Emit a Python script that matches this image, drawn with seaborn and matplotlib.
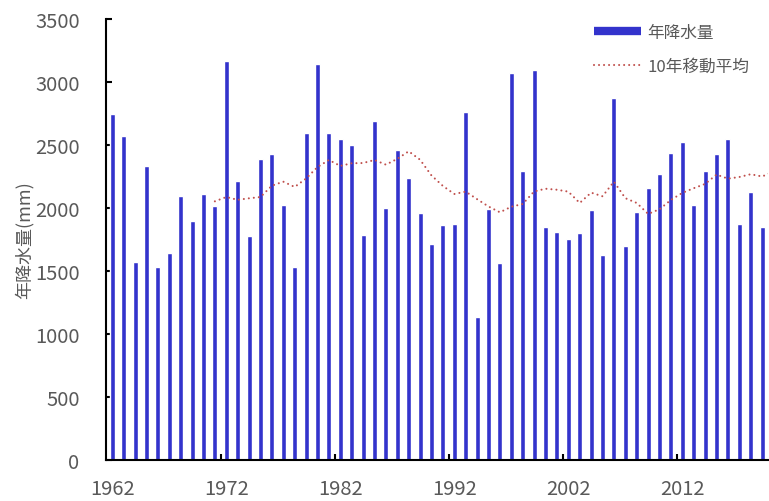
import matplotlib
matplotlib.use("Agg")
import matplotlib.pyplot as plt
import seaborn as sns
import pandas as pd
from matplotlib.lines import Line2D

# ---------- data ----------
years = list(range(1962, 2020))
precip = [2746, 2569, 1571, 2331, 1532, 1645, 2098, 1897, 2114, 2013,
          3167, 2214, 1775, 2386, 2429, 2026, 1532, 2595, 3143, 2595,
          2545, 2503, 1783, 2688, 1998, 2460, 2236, 1963, 1717, 1868,
          1876, 2762, 1132, 1992, 1566, 3072, 2294, 3093, 1847, 1810,
          1754, 1802, 1984, 1624, 2871, 1696, 1968, 2156, 2273, 2437,
          2524, 2021, 2294, 2429, 2545, 1870, 2127, 1847]
ma_years = list(range(1971, 2021))
ma_values = [2053, 2087, 2065, 2077, 2087, 2177, 2209, 2167, 2234, 2325,
             2381, 2334, 2355, 2357, 2381, 2344, 2390, 2450, 2383, 2258,
             2175, 2111, 2130, 2070, 2012, 1966, 2010, 2032, 2131, 2153,
             2145, 2130, 2040, 2122, 2093, 2209, 2078, 2040, 1953, 1990,
             2064, 2120, 2157, 2191, 2265, 2233, 2246, 2268, 2250, 2290]
label_years = [1962, 1972, 1982, 1992, 2002, 2012]

BAR_COLOR = "#3333CC"
MA_COLOR = "#C0504D"
TEXT_COLOR = "#595959"
# ---------------------------------------------------

sns.set_style("white")
plt.rcParams["font.family"] = ["Noto Sans CJK JP", "DejaVu Sans"]

df = pd.DataFrame({"year": [str(y) for y in years], "precip": precip})
ma_df = pd.DataFrame({"pos": [y - years[0] for y in ma_years], "ma": ma_values})

W, H, dpi = 769, 502, 100
fig = plt.figure(figsize=(W / dpi, H / dpi), dpi=dpi)
ax = fig.add_axes([106 / W, 41 / H, 662.4 / W, 441 / H])

sns.barplot(data=df, x="year", y="precip", color=BAR_COLOR, saturation=1,
            width=0.45, ax=ax)
sns.lineplot(data=ma_df, x="pos", y="ma", ax=ax, color=MA_COLOR,
             linewidth=1.5, linestyle=(0, (0.01, 2.4)), dash_capstyle="round")

ax.set_xlim(-0.55, len(years) - 1 + 0.55)
ax.set_ylim(0, 3500)
ax.set_yticks(range(0, 3501, 500))

# labels under categories, tick marks between categories
ax.set_xticks([y - years[0] for y in label_years])
ax.set_xticklabels([str(y) for y in label_years])
ax.set_xticks([y - years[0] - 0.5 for y in label_years[1:]], minor=True)
ax.tick_params(axis="x", which="major", length=0, pad=13, labelsize=14.5,
               labelcolor=TEXT_COLOR)
ax.tick_params(axis="x", which="minor", direction="in", length=4, width=1.5,
               color="black", bottom=True)
ax.tick_params(axis="y", direction="in", length=4, width=1.5, color="black",
               left=True, pad=19, labelsize=14.5, labelcolor=TEXT_COLOR)

for side in ["top", "right"]:
    ax.spines[side].set_visible(False)
for side in ["left", "bottom"]:
    ax.spines[side].set_color("black")
    ax.spines[side].set_linewidth(1.5)

ax.set_xlabel("")
ax.set_ylabel("年降水量(mm)", fontsize=13, color=TEXT_COLOR)
ax.yaxis.set_label_coords(-0.110, 0.5)

handles = [
    Line2D([], [], color=BAR_COLOR, linewidth=6, solid_capstyle="butt"),
    Line2D([], [], color=MA_COLOR, linewidth=1.5, linestyle=(0, (0.01, 2.4)),
           dash_capstyle="round"),
]
ax.legend(handles, ["年降水量", "10年移動平均"], loc="upper left",
          bbox_to_anchor=(594 / W, 477 / H), bbox_transform=fig.transFigure,
          frameon=False, fontsize=12, labelcolor=TEXT_COLOR, handlelength=2.8,
          handletextpad=0.4, labelspacing=1.0, borderpad=0, borderaxespad=0)

fig.savefig("out.png", dpi=dpi)
